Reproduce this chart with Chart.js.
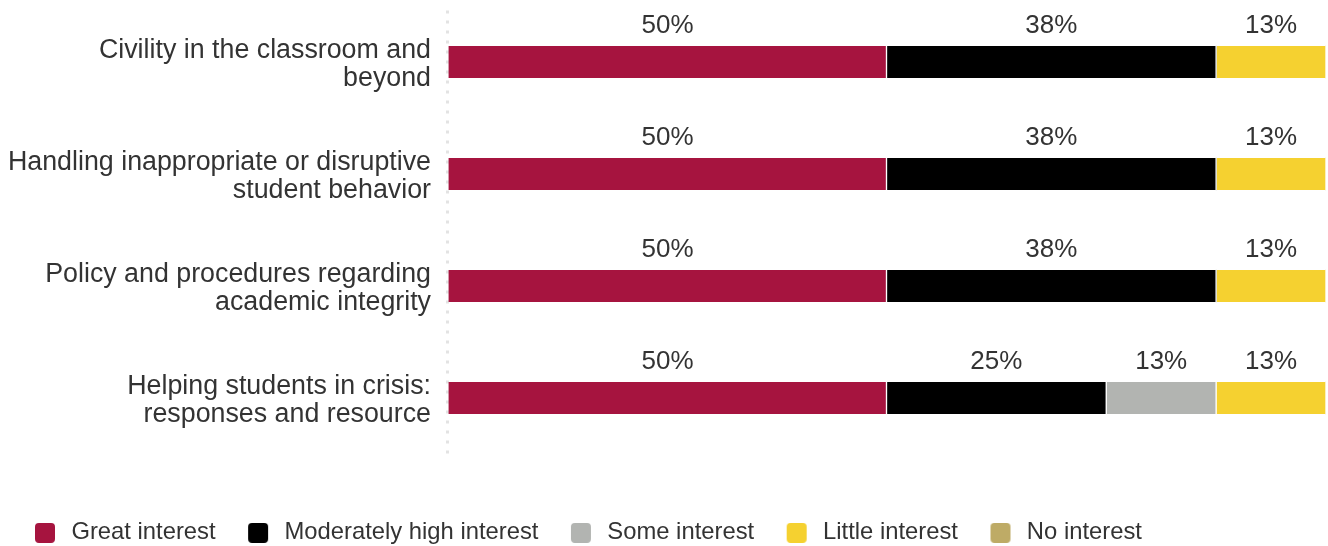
<!DOCTYPE html>
<html>
<head>
<meta charset="utf-8">
<script src="https://cdn.jsdelivr.net/npm/chart.js@4.4.1/dist/chart.umd.min.js"></script>
<style>
  html, body { margin: 0; padding: 0; background: #ffffff; }
  #wrap { width: 1328px; height: 546px; position: relative; }
</style>
</head>
<body>
<div id="wrap"><canvas id="chart"></canvas></div>
<script>
// ---- data ----
const categories = [
  ['Civility in the classroom and', 'beyond'],
  ['Handling inappropriate or disruptive', 'student behavior'],
  ['Policy and procedures regarding', 'academic integrity'],
  ['Helping students in crisis:', 'responses and resource']
];
const seriesNames = ['Great interest', 'Moderately high interest', 'Some interest', 'Little interest', 'No interest'];
const greatInterest          = [50, 50, 50, 50];
const moderatelyHighInterest = [37.5, 37.5, 37.5, 25];
const someInterest           = [0, 0, 0, 12.5];
const littleInterest         = [12.5, 12.5, 12.5, 12.5];
const noInterest             = [0, 0, 0, 0];
const seriesColors = ['#A6143F', '#000000', '#B2B4B1', '#F5D130', '#BEAB66'];

const FONT = '"Liberation Sans", Arial, Helvetica, sans-serif';
const TEXT = '#333333';

function swatch(color) {
  const c = document.createElement('canvas');
  c.width = 44; c.height = 20;
  const g = c.getContext('2d');
  const x = 21, y = 0, w = 20, h = 20, r = 4;
  g.fillStyle = color;
  g.beginPath();
  g.moveTo(x + r, y);
  g.lineTo(x + w - r, y);
  g.arcTo(x + w, y, x + w, y + r, r);
  g.lineTo(x + w, y + h - r);
  g.arcTo(x + w, y + h, x + w - r, y + h, r);
  g.lineTo(x + r, y + h);
  g.arcTo(x, y + h, x, y + h - r, r);
  g.lineTo(x, y + r);
  g.arcTo(x, y, x + r, y, r);
  g.closePath();
  g.fill();
  return c;
}
const swatches = seriesColors.map(swatch);

const seriesData = [greatInterest, moderatelyHighInterest, someInterest, littleInterest, noInterest];

const valueLabels = {
  id: 'valueLabels',
  afterDatasetsDraw(chart) {
    const ctx = chart.ctx;
    ctx.save();
    ctx.font = '26px ' + FONT;
    ctx.fillStyle = TEXT;
    ctx.textAlign = 'center';
    ctx.textBaseline = 'middle';
    chart.data.datasets.forEach((ds, di) => {
      const meta = chart.getDatasetMeta(di);
      meta.data.forEach((bar, i) => {
        const v = ds.data[i];
        if (!v) return;
        const p = bar.getProps(['x', 'y', 'base', 'height'], true);
        ctx.fillText(Math.round(v) + '%', (p.x + p.base) / 2, p.y - p.height / 2 - 20);
      });
    });
    ctx.restore();
  }
};

new Chart(document.getElementById('chart'), {
  type: 'bar',
  data: {
    labels: categories,
    datasets: seriesNames.map((name, i) => ({
      label: name,
      data: seriesData[i],
      backgroundColor: seriesColors[i],
      borderColor: '#ffffff',
      borderWidth: { left: i === 0 ? 0 : 1, right: 1, top: 0, bottom: 0 },
      borderSkipped: false,
      barThickness: 32
    }))
  },
  options: {
    indexAxis: 'y',
    responsive: true,
    maintainAspectRatio: false,
    animation: false,
    devicePixelRatio: 1,
    layout: { padding: { left: 2.5, right: 2, top: 6, bottom: -8.75 } },
    scales: {
      x: {
        stacked: true,
        min: 0,
        max: 100,
        ticks: { display: false, stepSize: 10 },
        grid: {
          display: true,
          drawTicks: false,
          lineWidth: 3,
          color: (c) => (c.tick && c.tick.value === 0 ? '#e3e3e3' : 'rgba(0,0,0,0)')
        },
        border: { display: false, dash: [3, 7], dashOffset: 5.5 },
        afterFit: (s) => { s.height = 57; }
      },
      y: {
        stacked: true,
        grid: { display: false, drawTicks: false },
        border: { display: false },
        ticks: {
          color: TEXT,
          padding: 16,
          autoSkip: false,
          labelOffset: 3,
          font: { size: 26.8, family: FONT, lineHeight: 1.045 }
        },
        afterFit: (s) => { s.width = 444.5; s.paddingTop = 0; s.paddingBottom = 0; }
      }
    },
    plugins: {
      tooltip: { enabled: false },
      legend: {
        position: 'bottom',
        align: 'start',
        labels: {
          usePointStyle: true,
          pointStyleWidth: 47,
          padding: 10,
          color: TEXT,
          font: { size: 23.8, family: FONT },
          generateLabels: (chart) =>
            Chart.defaults.plugins.legend.labels.generateLabels(chart).map((it, i) => ({
              ...it, pointStyle: swatches[i], fontColor: TEXT
            }))
        }
      }
    }
  },
  plugins: [valueLabels]
});
</script>
</body>
</html>
